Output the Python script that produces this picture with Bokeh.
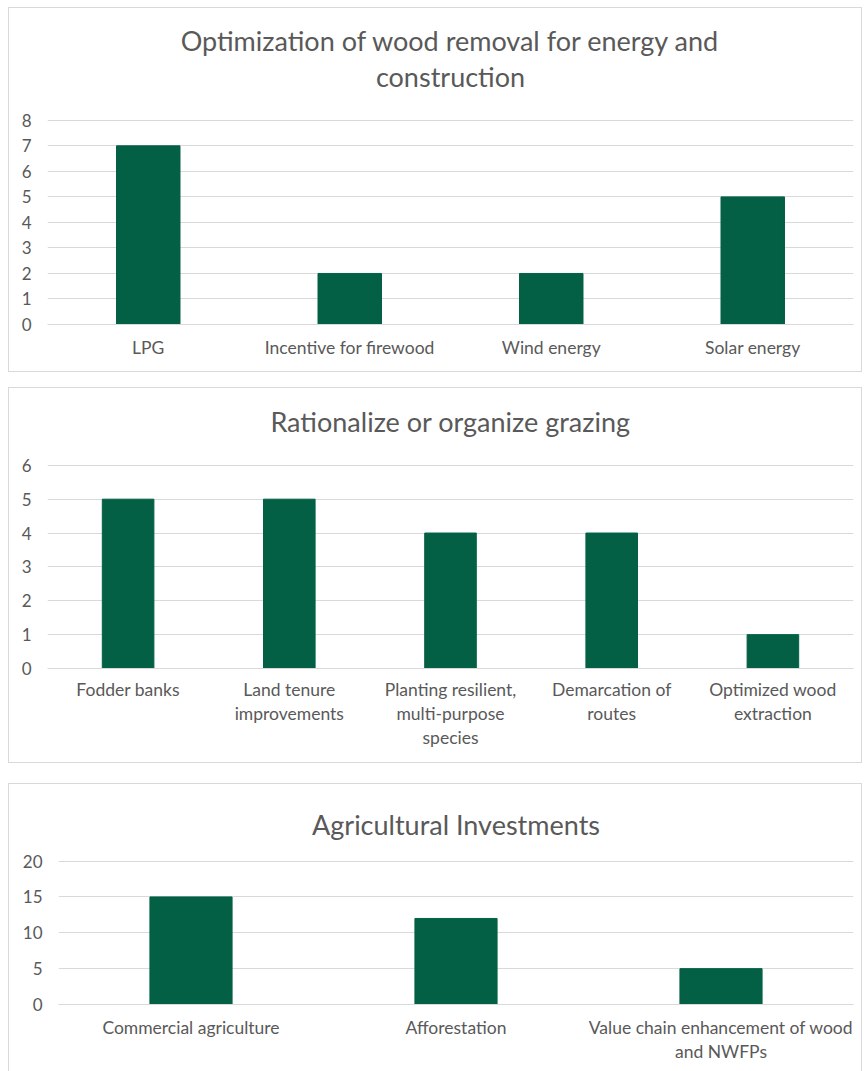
from bokeh.plotting import figure
from bokeh.models import FactorRange, Range1d, SingleIntervalTicker, Title
from bokeh.layouts import column
from bokeh.embed import file_html
from bokeh.resources import INLINE

# ---- data ----
wood_title = ["Optimization of wood removal for energy and", "construction"]
wood_categories = ["LPG", "Incentive for firewood", "Wind energy", "Solar energy"]
wood_values = [7, 2, 2, 5]
wood_ymax = 8
wood_step = 1

grazing_title = ["Rationalize or organize grazing"]
grazing_categories = ["Fodder banks", "Land tenure\nimprovements",
                      "Planting resilient,\nmulti-purpose\nspecies",
                      "Demarcation of\nroutes", "Optimized wood\nextraction"]
grazing_values = [5, 5, 4, 4, 1]
grazing_ymax = 6
grazing_step = 1

agri_title = ["Agricultural Investments"]
agri_categories = ["Commercial agriculture", "Afforestation",
                   "Value chain enhancement of wood\nand NWFPs"]
agri_values = [15, 12, 5]
agri_ymax = 20
agri_step = 5

FONT = "Lato"
TXT = "#595959"
GRID = "#d9d9d9"
BAR = "#036045"


def make_panel(title_lines, spacer, cats, vals, ymax, step, height,
               top, bottom, left, right, label_standoff, ylab_standoff,
               bar_w, margin, border):
    p = figure(x_range=FactorRange(factors=cats, range_padding=0),
               y_range=Range1d(0, ymax * 1.004), width=854, height=height,
               output_backend="svg", toolbar_location=None,
               min_border_top=top, min_border_bottom=bottom,
               min_border_left=left, min_border_right=right)
    p.frame_align = False
    p.margin = margin
    p.styles = border
    p.outline_line_color = None
    p.background_fill_color = "white"
    p.border_fill_color = "white"
    p.vbar(x=cats, top=vals, width=bar_w, color=BAR)

    p.xgrid.visible = False
    p.ygrid.grid_line_color = GRID
    p.ygrid.grid_line_width = 1
    p.yaxis.ticker = SingleIntervalTicker(interval=step)
    p.yaxis.axis_line_color = None
    p.yaxis.major_tick_line_color = None
    p.yaxis.minor_tick_line_color = None
    p.yaxis.major_tick_out = 0
    p.yaxis.major_tick_in = 0
    p.yaxis.minor_tick_out = 0
    p.yaxis.major_label_text_font = FONT
    p.yaxis.major_label_text_font_size = "17px"
    p.yaxis.major_label_text_color = TXT
    p.yaxis.major_label_standoff = ylab_standoff

    p.xaxis.axis_line_color = GRID
    p.xaxis.major_tick_line_color = None
    p.xaxis.minor_tick_line_color = None
    p.xaxis.major_tick_out = 0
    p.xaxis.major_tick_in = 0
    p.xaxis.major_label_text_font = FONT
    p.xaxis.major_label_text_font_size = "17.5px"
    p.xaxis.major_label_text_color = TXT
    p.xaxis.major_label_standoff = label_standoff
    p.xaxis.major_label_text_line_height = 1.15

    # white (invisible) spacer nearest the frame, then title lines outward
    p.add_layout(Title(text=".", text_font_size="1px", text_color="white",
                       standoff=spacer), "above")
    for line in reversed(title_lines):
        p.add_layout(Title(text=line, align="center", text_font=FONT,
                           text_font_size="27px", text_font_style="normal",
                           text_color=TXT, standoff=1), "above")
    return p


border = {"border": "1.5px solid #d9d9d9", "box-sizing": "border-box"}
border3 = {"border": "1.5px solid #d9d9d9", "border-bottom": "none",
           "box-sizing": "border-box"}

p1 = make_panel(wood_title, 23, wood_categories, wood_values, wood_ymax,
                wood_step, 365, 111, 49, 38, 10, 12, 16, 0.315, (7, 0, 0, 8), border)
p2 = make_panel(grazing_title, 23, grazing_categories, grazing_values,
                grazing_ymax, grazing_step, 376, 76, 96, 38, 10, 10, 16, 0.32,
                (15, 0, 0, 8), border)
p3 = make_panel(agri_title, 16, agri_categories, agri_values, agri_ymax,
                agri_step, 288, 76, 68, 49, 10, 12, 16, 0.31, (20, 0, 0, 8), border3)

layout = column(p1, p2, p3, spacing=0)
open("out.html", "w").write(file_html(layout, INLINE))
